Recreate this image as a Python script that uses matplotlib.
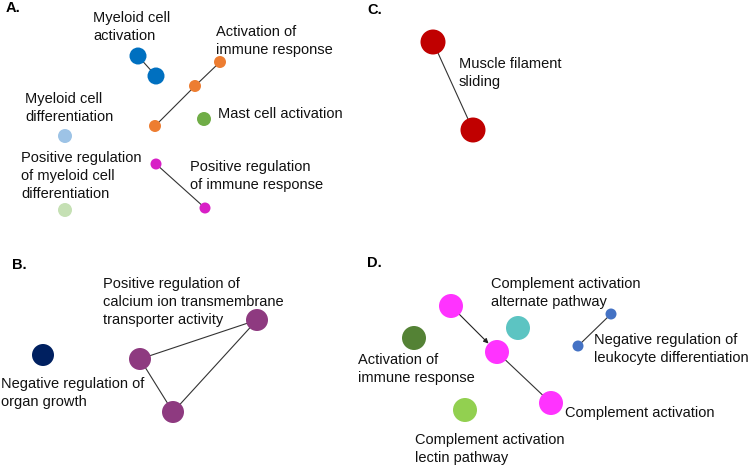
import matplotlib.pyplot as plt

plt.rcParams['font.family'] = ['Liberation Sans', 'DejaVu Sans']

# node layout (pixel-like units of the canvas), size = radius, colour per cluster
node_x = [138, 156,            # A myeloid cell activation
          220, 195, 155,       # A activation of immune response
          204,                 # A mast cell activation
          65,                  # A myeloid cell differentiation
          65,                  # A pos reg myeloid cell diff
          156, 205,            # A pos reg immune response
          433, 473,            # C muscle filament sliding
          43,                  # B negative regulation of organ growth
          140, 257, 173,       # B calcium ion transporter
          451, 497, 551,       # D complement activation
          518,                 # D alternate pathway
          414,                 # D activation of immune response
          465,                 # D lectin pathway
          611, 578]            # D neg reg leukocyte diff
node_y = [56, 76,
          62, 86, 126,
          119,
          136,
          210,
          164, 208,
          42, 130,
          355,
          359, 320, 412,
          306, 352, 403,
          328,
          338,
          410,
          314, 346]
node_r = [8.5, 8.5,
          6, 6, 6,
          7,
          7,
          7,
          5.5, 5.5,
          12.5, 12.5,
          11,
          11, 11, 11,
          12, 12, 12,
          12,
          12,
          12,
          5.5, 5.5]
node_color = ['#0070c0', '#0070c0',
              '#ed7d31', '#ed7d31', '#ed7d31',
              '#70ad47',
              '#9dc3e6',
              '#c5e0b4',
              '#d81fc6', '#d81fc6',
              '#c00000', '#c00000',
              '#002060',
              '#8e3a80', '#8e3a80', '#8e3a80',
              '#ff33ff', '#ff33ff', '#ff33ff',
              '#5cc4c2',
              '#548235',
              '#92d050',
              '#4472c4', '#4472c4']

edges = [(0, 1), (2, 3), (3, 4), (8, 9), (10, 11),
         (13, 14), (14, 15), (13, 15), (17, 18), (22, 23)]
arrows = [(16, 17)]

labels = ["Myeloid cell\nactivation",
          "Activation of\nimmune response",
          "Mast cell activation",
          "Myeloid cell\ndifferentiation",
          "Positive regulation\nof myeloid cell\ndifferentiation",
          "Positive regulation\nof immune response",
          "Muscle filament\nsliding",
          "Negative regulation of\norgan growth",
          "Positive regulation of\ncalcium ion transmembrane\ntransporter activity",
          "Complement activation\nalternate pathway",
          "Negative regulation of\nleukocyte differentiation",
          "Activation of\nimmune response",
          "Complement activation",
          "Complement activation\nlectin pathway"]
label_x = [93, 216, 218, 25, 21, 190, 459, 1, 103, 491, 594, 358, 565, 415]
label_y = [27, 41, 114, 108, 176, 176, 73, 393, 302, 293, 349, 369, 413, 449]

panels = ["A.", "B.", "C.", "D."]
panel_x = [6, 12, 367, 367]
panel_y = [8, 265, 10, 263]

fig = plt.figure(figsize=(7.49, 4.66), dpi=100)
ax = fig.add_axes([0, 0, 1, 1])
ax.set_xlim(0, 749)
ax.set_ylim(466, 0)
ax.axis('off')

for a, b in edges:
    ax.plot([node_x[a], node_x[b]], [node_y[a], node_y[b]],
            color='#333333', lw=0.8, zorder=1)

for a, b in arrows:
    ax.annotate('', xy=(node_x[b], node_y[b]), xytext=(node_x[a], node_y[a]),
                arrowprops=dict(arrowstyle='-|>', color='#222222', lw=0.8,
                                mutation_scale=7,
                                shrinkA=node_r[a] * 0.72, shrinkB=node_r[b] * 0.72),
                zorder=1)

sizes = [(2 * r * 0.72) ** 2 for r in node_r]
ax.scatter(node_x, node_y, s=sizes, c=node_color, linewidths=0, zorder=2)

for t, x, y in zip(labels, label_x, label_y):
    ax.text(x, y, t, fontsize=10.5, ha='left', va='center',
            linespacing=1.32, color='#111111')

for t, x, y in zip(panels, panel_x, panel_y):
    ax.text(x, y, t, fontsize=10.5, fontweight='bold', ha='left', va='center')

fig.savefig('out.png', dpi=100)
